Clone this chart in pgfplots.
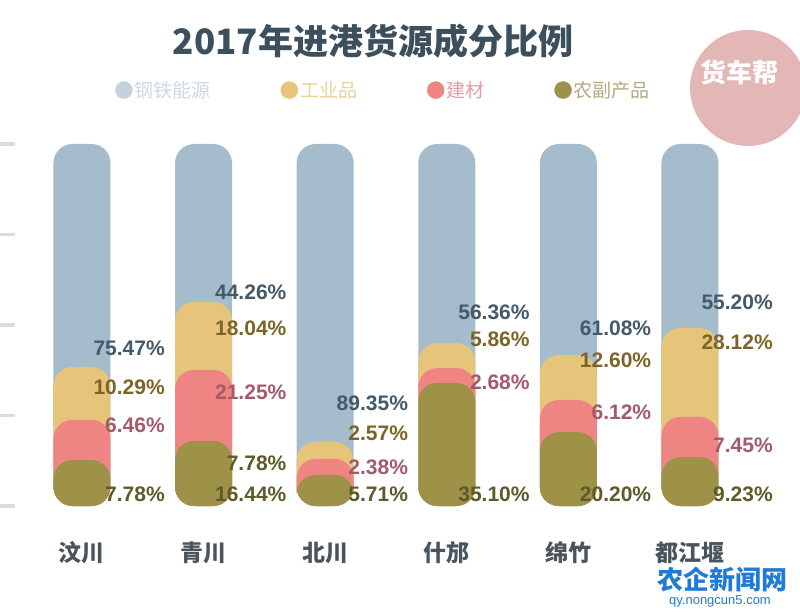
\documentclass[border=0pt]{standalone}
\usepackage{pgfplots}
\pgfplotsset{compat=1.18}
\usepackage{pgfplotstable}
\usepackage{fontspec}
\setmainfont{Liberation Sans}
\newfontfamily\cjk{Noto Sans CJK SC}
\newfontfamily\numfont{Liberation Sans}

\definecolor{cblue}{HTML}{A4BCCB}
\definecolor{cyellow}{HTML}{E6C47A}
\definecolor{cred}{HTML}{EF8583}
\definecolor{colive}{HTML}{9E9148}
\definecolor{tblue}{HTML}{435A6B}
\definecolor{tyellow}{HTML}{7D6428}
\definecolor{tred}{HTML}{A35A6A}
\definecolor{tolive}{HTML}{5E5A2A}
\definecolor{titlec}{HTML}{3C4F5D}
\definecolor{catc}{HTML}{4A545C}
\definecolor{tickc}{HTML}{D6DEE4}
\definecolor{lgblue}{HTML}{C3D2DC}
\definecolor{lgblueT}{HTML}{CDD8E0}
\definecolor{lgyellowT}{HTML}{E8D29E}
\definecolor{lgredT}{HTML}{E79AA2}
\definecolor{lgoliveT}{HTML}{B3AA80}
\definecolor{wmpink}{HTML}{E3B7B5}
\definecolor{wmblue}{HTML}{1F7BD6}

% drawn heights of the overlapping rounded bars (0 = bottom, 100 = top)
\pgfplotstableread{
x steel ind  mat  agri
0 100   38.4 23.8 12.7
1 100   56.4 37.6 18.0
2 100   17.7 13.0 8.6
3 100   45.0 38.1 34.0
4 100   41.7 29.3 20.4
5 100   49.2 24.6 13.5
}\bars

% value labels: x, vertical position, value (percent)
\pgfplotstableread{
x ly   lab
0 43.6 75.47
1 59.1 44.26
2 28.5 89.35
3 53.6 56.36
4 49.2 61.08
5 56.4 55.20
}\lsteel
\pgfplotstableread{
x ly   lab
0 32.9 10.29
1 49.2 18.04
2 20.2 2.57
3 46.1 5.86
4 40.3 12.60
5 45.3 28.12
}\lind
\pgfplotstableread{
x ly   lab
0 22.4 6.46
1 31.5 21.25
2 10.8 2.38
3 34.3 2.68
4 26.0 6.12
5 16.9 7.45
}\lmat
\pgfplotstableread{
x ly   lab
0 3.3  7.78
1 11.9 7.78
1 3.3  16.44
2 3.3  5.71
3 3.3  35.10
4 3.3  20.20
5 3.3  9.23
}\lagri

\pgfplotsset{
  barstyle/.style={ybar, bar width=57pt, bar shift=0pt, draw=none, rounded corners=19pt, forget plot},
  lblstyle/.style={draw=none, mark=none, forget plot, point meta=explicit symbolic,
    nodes near coords={\pgfplotspointmeta\%},
    every node near coord/.append style={anchor=east, xshift=83pt, inner sep=0pt,
      text=#1, font=\numfont\bfseries\fontsize{21}{21}\selectfont}},
}

\begin{document}
\begin{tikzpicture}
\useasboundingbox (0pt,0pt) rectangle (800pt,614pt);
\begin{axis}[
  at={(0pt,108pt)}, anchor=south west,
  scale only axis, width=800pt, height=362pt,
  xmin=-0.674, xmax=5.905, ymin=0, ymax=100,
  clip=false,
  axis line style={draw=none},
  xtick={0,1,2,3,4,5},
  xticklabels={汶川,青川,北川,什邡,绵竹,都江堰},
  xtick style={draw=none},
  xtick pos=bottom,
  xticklabel style={font=\cjk\bfseries\fontsize{23}{23}\selectfont, text=catc, anchor=center, yshift=-47pt},
  ytick={0,25,50,75,100}, yticklabels={},
  ytick pos=left, tick align=inside,
  major tick length=15pt,
  ytick style={draw=tickc, line width=3.5pt},
  legend style={at={(0.14,1.149)}, anchor=west, draw=none, fill=none,
    legend columns=4, font=\cjk\fontsize{19}{19}\selectfont,
    /tikz/every even column/.append style={column sep=68pt}},
]
\addplot[barstyle, fill=cblue]   table[x=x, y=steel]{\bars};
\addplot[barstyle, fill=cyellow] table[x=x, y=ind]{\bars};
\addplot[barstyle, fill=cred]    table[x=x, y=mat]{\bars};
\addplot[barstyle, fill=colive]  table[x=x, y=agri]{\bars};

\addplot[lblstyle=tblue]   table[x=x, y=ly, meta=lab]{\lsteel};
\addplot[lblstyle=tyellow] table[x=x, y=ly, meta=lab]{\lind};
\addplot[lblstyle=tred]    table[x=x, y=ly, meta=lab]{\lmat};
\addplot[lblstyle=tolive]  table[x=x, y=ly, meta=lab]{\lagri};

\addlegendimage{legend image code/.code={\fill[lgblue] (4pt,0pt) circle (8.5pt);}}
\addlegendentry{\textcolor{lgblueT}{钢铁能源}}
\addlegendimage{legend image code/.code={\fill[cyellow] (4pt,0pt) circle (8.5pt);}}
\addlegendentry{\textcolor{lgyellowT}{工业品}}
\addlegendimage{legend image code/.code={\fill[cred] (4pt,0pt) circle (8.5pt);}}
\addlegendentry{\textcolor{lgredT}{建材}}
\addlegendimage{legend image code/.code={\fill[colive] (4pt,0pt) circle (8.5pt);}}
\addlegendentry{\textcolor{lgoliveT}{农副产品}}
\end{axis}

\node[text=titlec, font=\cjk\bfseries\fontsize{35}{35}\selectfont] at (373pt,573pt) {2017年进港货源成分比例};

\fill[wmpink] (748pt,526pt) circle (58pt);
\node[text=white, font=\cjk\bfseries\fontsize{26}{26}\selectfont] at (739pt,542pt) {货车帮};

\node[text=wmblue, font=\cjk\bfseries\fontsize{26}{26}\selectfont] at (722pt,34pt) {农企新闻网};
\node[text=wmblue, font=\fontsize{13}{13}\selectfont] at (720pt,13pt) {qy.nongcun5.com};
\end{tikzpicture}
\end{document}
